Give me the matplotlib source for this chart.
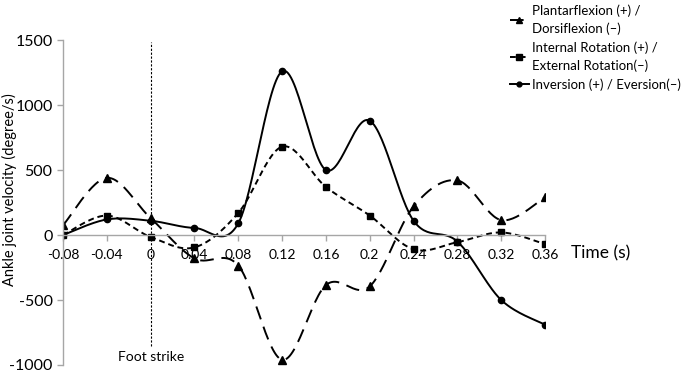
import numpy as np
import matplotlib.pyplot as plt
from matplotlib.lines import Line2D

plt.rcParams['font.family'] = ['Lato', 'DejaVu Sans']

time = [-0.08, -0.04, 0, 0.04, 0.08, 0.12, 0.16, 0.2, 0.24, 0.28, 0.32, 0.36]
plantar = [75, 440, 130, -180, -235, -960, -385, -395, 220, 420, 115, 290]
internal = [0, 150, -15, -95, 170, 680, 370, 150, -110, -55, 20, -70]
inversion = [0, 120, 110, 55, 90, 1260, 500, 880, 110, -50, -500, -690]

xticks = [-0.08, -0.04, 0, 0.04, 0.08, 0.12, 0.16, 0.2, 0.24, 0.28, 0.32, 0.36]
xlabels = ['-0.08', '-0.04', '0', '0.04', '0.08', '0.12', '0.16', '0.2', '0.24', '0.28', '0.32', '0.36']
yticks = [-1000, -500, 0, 500, 1000, 1500]

labels = ['Plantarflexion (+) /\nDorsiflexion (\u2013)',
          'Internal Rotation (+) /\nExternal Rotation(\u2013)',
          'Inversion (+) / Eversion(\u2013)']


def smooth(x, y, n=30):
    # excel style smoothing (catmull-rom as bezier)
    p = np.column_stack([x, y]).astype(float)
    p = np.vstack([p[0], p, p[-1]])
    out = []
    t = np.linspace(0, 1, n)[:, None]
    for i in range(1, len(p) - 2):
        p0, p3 = p[i], p[i + 1]
        c1 = p0 + (p[i + 1] - p[i - 1]) / 6
        c2 = p3 - (p[i + 2] - p[i]) / 6
        seg = (1 - t)**3 * p0 + 3 * (1 - t)**2 * t * c1 + 3 * (1 - t) * t**2 * c2 + t**3 * p3
        out.append(seg if i == 1 else seg[1:])
    s = np.vstack(out)
    return s[:, 0], s[:, 1]


fig = plt.figure(figsize=(6.9, 3.76), dpi=100)
ax = fig.add_axes([0.0913, 0.0293, 0.6986, 0.864])

styles = [((0, (7, 4)), '^', 5.5), ((0, (3, 2)), 's', 5), ('-', 'o', 4.5)]
handles = []
for y, (ls, mk, ms) in zip([plantar, internal, inversion], styles):
    sx, sy = smooth(time, y)
    ax.plot(sx, sy, color='black', lw=1.4, linestyle=ls)
    ax.plot(time, y, linestyle='none', marker=mk, color='black', ms=ms)
    handles.append(Line2D([], [], color='black', lw=1.4, linestyle=ls, marker=mk, ms=ms - 1))

ax.axvline(0, ymin=0.058, ymax=0.995, color='black', lw=0.8, linestyle=(0, (2, 1.5)))
ax.text(0, -940, 'Foot strike', ha='center', va='center', fontsize=10)

ax.set_xlim(-0.08, 0.36)
ax.set_ylim(-1000, 1500)
ax.set_xticks(xticks)
ax.set_xticklabels(xlabels, fontsize=12)
ax.set_yticks(yticks)
ax.set_yticklabels([str(v) for v in yticks], fontsize=11.5)
ax.spines['top'].set_visible(False)
ax.spines['right'].set_visible(False)
ax.spines['bottom'].set_position(('data', 0))
for s in ['left', 'bottom']:
    ax.spines[s].set_color('#a6a6a6')
    ax.spines[s].set_linewidth(1)
ax.tick_params(axis='both', colors='#a6a6a6', labelcolor='black', length=4, width=1)
ax.tick_params(axis='x', pad=6)

fig.text(0.013, 0.495, 'Ankle joint velocity (degree/s)', fontsize=10.5, rotation=90,
         ha='center', va='center')
fig.text(0.828, 0.327, 'Time (s)', fontsize=12.5, va='center')

leg = fig.legend(handles, labels, loc='upper left', bbox_to_anchor=(0.722, 1.02), frameon=False,
                 fontsize=9.5, handlelength=1.4, handletextpad=0.3, labelspacing=0.5)
for t in leg.get_texts():
    t.set_linespacing(1.5)

fig.savefig('out.png', dpi=100)
